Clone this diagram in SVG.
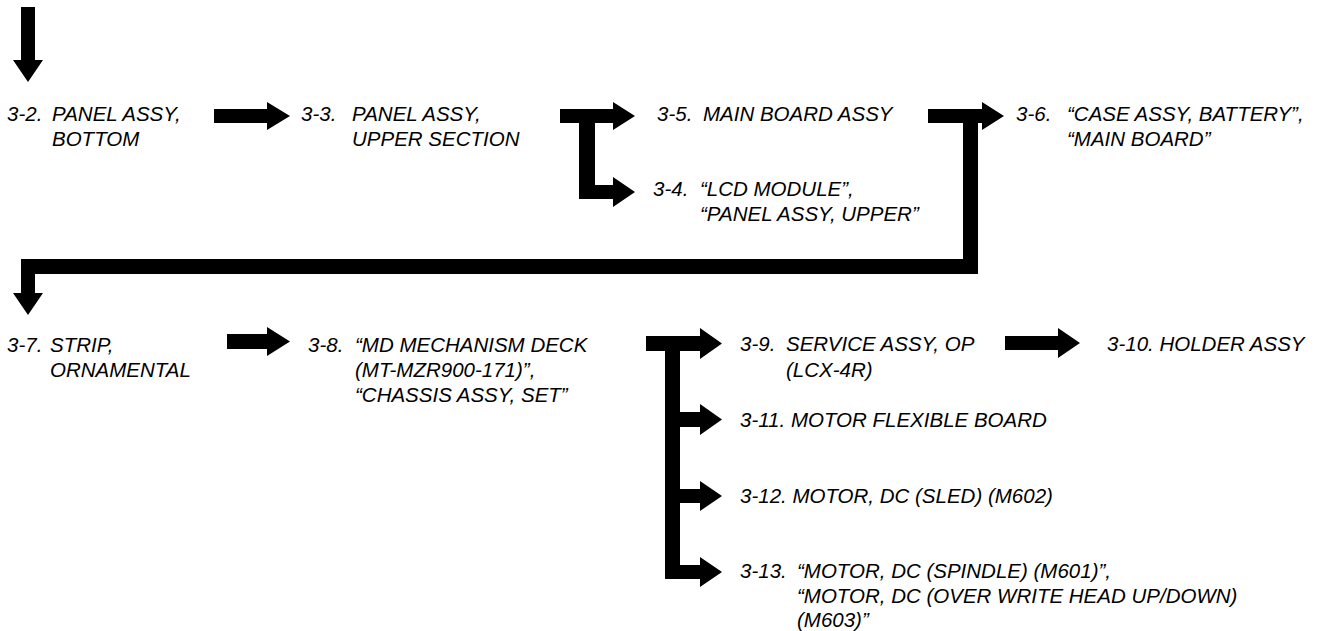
<svg xmlns="http://www.w3.org/2000/svg" width="1334" height="631" viewBox="0 0 1334 631">
<style>
.t{font-family:"Liberation Sans",Arial,sans-serif;font-style:italic;font-size:20.5px;fill:#000}
.c{fill:#000;stroke:none}
</style>
<rect width="1334" height="631" fill="#fff"/>
<g id="connectors">
<path class="c" d="M21,7 H35 V60 H43 L28,82 L13,60 H21 Z"/>
<path class="c" d="M214,109 H267 V102 L290,116 L267,130 V123 H214 Z"/>
<path class="c" d="M560,109 H613 V102 L635,116 L613,130 V123 H595 V185 H613 V177 L635,192 L613,207 V199 H579 V123 H560 Z"/>
<path class="c" d="M928,109 H982 V102 L1004,116 L982,130 V123 H978 V274 H35 V293 H43 L28,315 L13,293 H21 V259 H963 V123 H928 Z"/>
<path class="c" d="M227,334 H267 V327 L290,341.5 L267,356 V349 H227 Z"/>
<path class="c" d="M646,336 H700 V328 L722,343.5 L700,359 V351 H680 V412 H700 V404 L722,419.5 L700,435 V427 H680 V489 H700 V481 L722,496 L700,511 V503 H680 V565 H700 V557 L722,572 L700,587 V579 H665 V351 H646 Z"/>
<path class="c" d="M1005,336 H1058 V328 L1080,343 L1058,358 V350 H1005 Z"/>
</g>
<g id="n3-2"><text class="t" x="7" y="121">3-2.<tspan x="52">PANEL ASSY,</tspan></text><text class="t" x="52" y="146">BOTTOM</text></g>
<g id="n3-3"><text class="t" x="301" y="121">3-3.<tspan x="352">PANEL ASSY,</tspan></text><text class="t" x="352" y="146">UPPER SECTION</text></g>
<g id="n3-5"><text class="t" x="657" y="121">3-5.<tspan x="703">MAIN BOARD ASSY</tspan></text></g>
<g id="n3-4"><text class="t" x="653" y="196">3-4.<tspan x="700">“LCD MODULE”,</tspan></text><text class="t" x="700" y="221">“PANEL ASSY, UPPER”</text></g>
<g id="n3-6"><text class="t" x="1016" y="121">3-6.<tspan x="1067">“CASE ASSY, BATTERY”,</tspan></text><text class="t" x="1067" y="146">“MAIN BOARD”</text></g>
<g id="n3-7"><text class="t" x="7" y="352">3-7.<tspan x="50">STRIP,</tspan></text><text class="t" x="50" y="377">ORNAMENTAL</text></g>
<g id="n3-8"><text class="t" x="308" y="352">3-8.<tspan x="355">“MD MECHANISM DECK</tspan></text><text class="t" x="355" y="377">(MT-MZR900-171)”,</text><text class="t" x="355" y="402">“CHASSIS ASSY, SET”</text></g>
<g id="n3-9"><text class="t" x="740" y="351">3-9.<tspan x="786">SERVICE ASSY, OP</tspan></text><text class="t" x="786" y="377">(LCX-4R)</text></g>
<g id="n3-10"><text class="t" x="1107" y="351">3-10. HOLDER ASSY</text></g>
<g id="n3-11"><text class="t" x="740" y="427">3-11. MOTOR FLEXIBLE BOARD</text></g>
<g id="n3-12"><text class="t" x="740" y="503">3-12. MOTOR, DC (SLED) (M602)</text></g>
<g id="n3-13"><text class="t" x="740" y="578">3-13.<tspan x="797">“MOTOR, DC (SPINDLE) (M601)”,</tspan></text><text class="t" x="797" y="603">“MOTOR, DC (OVER WRITE HEAD UP/DOWN)</text><text class="t" x="797" y="627">(M603)”</text></g>
</svg>
